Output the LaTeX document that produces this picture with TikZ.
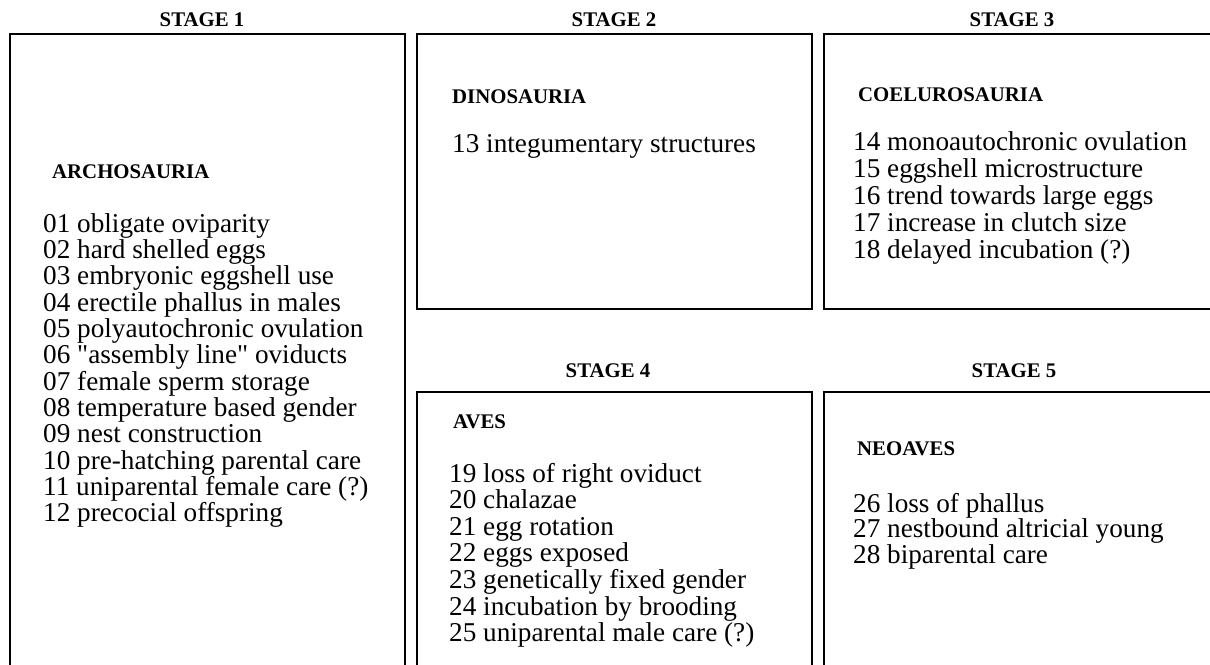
\documentclass[tikz,border=0pt]{standalone}
\usepackage{fontspec}
\setmainfont{Liberation Serif}[Ligatures=TeXOff]
\begin{document}
\tikzset{
  stagebox/.style={draw, line width=2.3pt},
  stagehead/.style={anchor=base, font=\bfseries\fontsize{20.8}{24}\selectfont, inner sep=0pt},
  cladetitle/.style={anchor=base west, font=\bfseries\fontsize{20.8}{24}\selectfont, inner sep=0pt},
  traititem/.style={anchor=base west, font=\fontsize{27.2}{28}\selectfont, inner sep=0pt},
}
\begin{tikzpicture}[x=1pt,y=-1pt]
\useasboundingbox (0,0) rectangle (1210,664);
\begin{scope}
\clip (0,0) rectangle (1210,664);
\draw[stagebox] (10,34) rectangle (405,690);
\draw[stagebox] (417,34) rectangle (812,309);
\draw[stagebox] (824,34) rectangle (1222,309);
\draw[stagebox] (417,392) rectangle (812,690);
\draw[stagebox] (824,392) rectangle (1222,690);
\end{scope}
% stage headings
\node[stagehead] (s1) at (202,26) {STAGE 1};
\node[stagehead] (s2) at (614,26) {STAGE 2};
\node[stagehead] (s3) at (1012,26) {STAGE 3};
\node[stagehead] (s4) at (608,377) {STAGE 4};
\node[stagehead] (s5) at (1014,377) {STAGE 5};
% clade titles
\node[cladetitle] (c1) at (52,178) {ARCHOSAURIA};
\node[cladetitle] (c2) at (452,103) {DINOSAURIA};
\node[cladetitle] (c3) at (858,101) {COELUROSAURIA};
\node[cladetitle] (c4) at (453,428) {AVES};
\node[cladetitle] (c5) at (857,455) {NEOAVES};
% stage 1 traits
\foreach \t [count=\i from 0] in {01 obligate oviparity, 02 hard shelled eggs, 03 embryonic eggshell use, 04 erectile phallus in males, 05 polyautochronic ovulation, 06 "assembly line" oviducts, 07 female sperm storage, 08 temperature based gender, 09 nest construction, 10 pre-hatching parental care, 11 uniparental female care (?), 12 precocial offspring}
  \node[traititem] (a\i) at (43,{232+26.36*\i}) {\t};
% stage 2
\node[traititem] (b0) at (452,152) {13 integumentary structures};
% stage 3
\foreach \t [count=\i from 0] in {14 monoautochronic ovulation, 15 eggshell microstructure, 16 trend towards large eggs, 17 increase in clutch size, 18 delayed incubation (?)}
  \node[traititem] (d\i) at (853,{150+27.2*\i}) {\t};
% stage 4
\foreach \t [count=\i from 0] in {19 loss of right oviduct, 20 chalazae, 21 egg rotation, 22 eggs exposed, 23 genetically fixed gender, 24 incubation by brooding, 25 uniparental male care (?)}
  \node[traititem] (e\i) at (449,{482+26.6*\i}) {\t};
% stage 5
\foreach \t [count=\i from 0] in {26 loss of phallus, 27 nestbound altricial young, 28 biparental care}
  \node[traititem] (f\i) at (853,{512+25.5*\i}) {\t};
\end{tikzpicture}
\end{document}
